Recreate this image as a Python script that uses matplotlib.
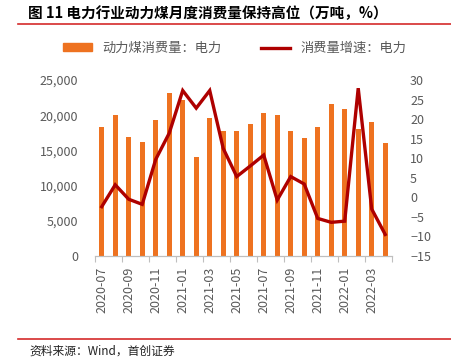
import numpy as np
import matplotlib.pyplot as plt
from matplotlib.lines import Line2D
from matplotlib.patches import Patch

plt.rcParams['font.family'] = ['Noto Sans CJK SC', 'DejaVu Sans']

months = ["2020-07", "2020-08", "2020-09", "2020-10", "2020-11", "2020-12",
          "2021-01", "2021-02", "2021-03", "2021-04", "2021-05", "2021-06",
          "2021-07", "2021-08", "2021-09", "2021-10", "2021-11", "2021-12",
          "2022-01", "2022-02", "2022-03", "2022-04"]
consumption = [18280, 20070, 16900, 16150, 19360, 23110, 22160, 14110, 19600, 17750,
               17700, 18700, 20310, 19980, 17800, 16710, 18320, 21640, 20830, 18090,
               19080, 16050]
growth = [-2.4, 3.2, -0.5, -1.8, 9.7, 16.4, 27.3, 22.8, 27.3, 12.5, 5.3, 8.0,
          10.8, -0.7, 5.3, 3.4, -5.4, -6.4, -6.1, 27.9, -3.0, -9.5]

bar_c = "#EE7220"
line_c = "#AE0000"
grey = "#595959"

fig = plt.figure(figsize=(4.51, 3.58), dpi=100)
ax = fig.add_axes([0.2106, 0.285, 0.6585, 0.4916])
ax2 = ax.twinx()

x = np.arange(len(months))
ax.bar(x, consumption, width=0.4, color=bar_c, zorder=2)
ax2.plot(x, growth, color=line_c, lw=2.4, solid_joinstyle="miter", zorder=3)

ax.set_xlim(-0.5, len(months) - 0.5)
ax.set_ylim(0, 25000)
ax.set_yticks(range(0, 25001, 5000))
ax.set_yticklabels([f"{v:,}" for v in range(0, 25001, 5000)])
ax2.set_ylim(-15, 30)
ax2.set_yticks(range(-15, 31, 5))

ax.set_xticks(x[::2])
ax.set_xticklabels(months[::2], rotation=90)
ax.set_xticks(np.arange(-0.5, len(months), 2), minor=True)
ax.tick_params(axis="x", which="major", length=0, pad=8, labelsize=9, labelcolor=grey)
ax.tick_params(axis="x", which="minor", length=4, color="#BFBFBF", width=0.8)
ax.tick_params(axis="y", length=0, labelsize=9, labelcolor=grey, pad=12)
ax2.tick_params(axis="y", length=0, labelsize=9, labelcolor=grey, pad=13)

for a in (ax, ax2):
    for s in ("top", "left", "right"):
        a.spines[s].set_visible(False)
    a.spines["bottom"].set_color("#BFBFBF")

# title, rules, source
fig.text(0.062, 0.963, "图 11 电力行业动力煤月度消费量保持高位（万吨，%）",
         fontsize=10.5, fontweight="bold", va="center", ha="left")
fig.add_artist(Line2D([0.04, 1.0], [0.932, 0.932], color="#D42A2A", lw=1.2))
fig.add_artist(Line2D([0.04, 1.0], [0.053, 0.053], color="#D42A2A", lw=1.2))
fig.text(0.065, 0.018, "资料来源：Wind，首创证券", fontsize=8.5, style="italic",
         va="center", ha="left", color="#222222")

handles = [Patch(color=bar_c), Line2D([0], [0], color=line_c, lw=2.4)]
fig.legend(handles, ["动力煤消费量：电力", "消费量增速：电力"], loc="center",
           bbox_to_anchor=(0.52, 0.865), ncol=2, frameon=False, fontsize=9.5,
           labelcolor=grey, handlelength=2.2, columnspacing=3, handleheight=0.5)

fig.savefig("out.png", dpi=100)
